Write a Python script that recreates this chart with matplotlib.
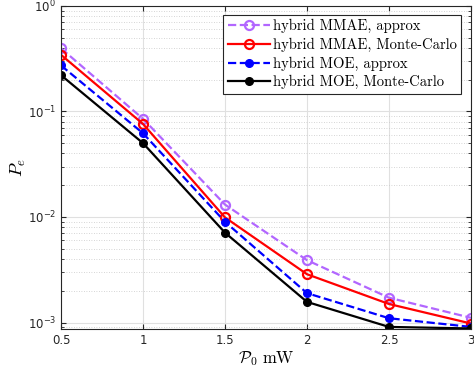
import matplotlib
matplotlib.use("Agg")
import matplotlib.pyplot as plt
from matplotlib.ticker import LogLocator, NullFormatter

plt.rcParams.update({
    "mathtext.fontset": "cm",
    "font.family": "DejaVu Sans",
    "axes.formatter.use_mathtext": True,
})

# data
p0 = [0.5, 1.0, 1.5, 2.0, 2.5, 3.0]
mmae_approx = [0.395, 0.085, 0.0131, 0.0039, 0.00172, 0.00111]
mmae_mc = [0.343, 0.076, 0.0099, 0.00287, 0.0015, 0.00098]
moe_approx = [0.272, 0.062, 0.0090, 0.0019, 0.0011, 0.00091]
moe_mc = [0.220, 0.050, 0.0071, 0.00157, 0.00091, 0.00088]

labels = ["hybrid MMAE, approx", "hybrid MMAE, Monte-Carlo",
          "hybrid MOE, approx", "hybrid MOE, Monte-Carlo"]

fig = plt.figure(figsize=(4.74, 3.75), dpi=100)
ax = fig.add_axes([0.1287, 0.1227, 0.865, 0.862])

ax.semilogy(p0, mmae_approx, "--o", color="#B266FF", lw=1.6, ms=6.5,
            mfc="none", mew=1.6, label=labels[0])
ax.semilogy(p0, mmae_mc, "-o", color="#FF0000", lw=1.6, ms=6.5,
            mfc="none", mew=1.6, label=labels[1])
ax.semilogy(p0, moe_approx, "--o", color="#0000FF", lw=1.6, ms=5.5,
            label=labels[2])
ax.semilogy(p0, moe_mc, "-o", color="#000000", lw=1.6, ms=5.5,
            label=labels[3])

ax.set_xlim(0.5, 3.0)
ax.set_ylim(8.7e-4, 1.0)
ax.set_xticks([0.5, 1, 1.5, 2, 2.5, 3])
ax.set_xticklabels(["0.5", "1", "1.5", "2", "2.5", "3"])
ax.yaxis.set_major_locator(LogLocator(base=10, numticks=10))
ax.yaxis.set_minor_locator(LogLocator(base=10, subs=range(2, 10), numticks=10))
ax.yaxis.set_minor_formatter(NullFormatter())

ax.grid(True, which="major", color="#E0E0E0", lw=0.8, ls="-")
ax.grid(True, which="minor", axis="y", color="#C8C8C8", lw=0.6, ls=(0, (1, 2)))
ax.set_axisbelow(True)

ax.tick_params(which="both", direction="in", top=True, right=True,
               colors="#262626", labelsize=8.5)
ax.tick_params(which="major", length=3.5)
ax.tick_params(which="minor", length=2)
for s in ax.spines.values():
    s.set_color("#262626")
    s.set_linewidth(0.8)

ax.set_xlabel(r"$\mathcal{P}_0\ \mathrm{mW}$", fontsize=12, labelpad=2)
ax.set_ylabel(r"$P_e$", fontsize=13, labelpad=0)

leg = ax.legend(loc="upper right", bbox_to_anchor=(0.976, 0.972),
                borderaxespad=0,
                prop={"family": "cmr10", "size": 10.5}, handlelength=2.9,
                handletextpad=0.2, borderpad=0.3, labelspacing=0.3,
                fancybox=False, framealpha=1, edgecolor="#262626")
leg.get_frame().set_linewidth(0.8)

fig.savefig("out.png", dpi=100)
